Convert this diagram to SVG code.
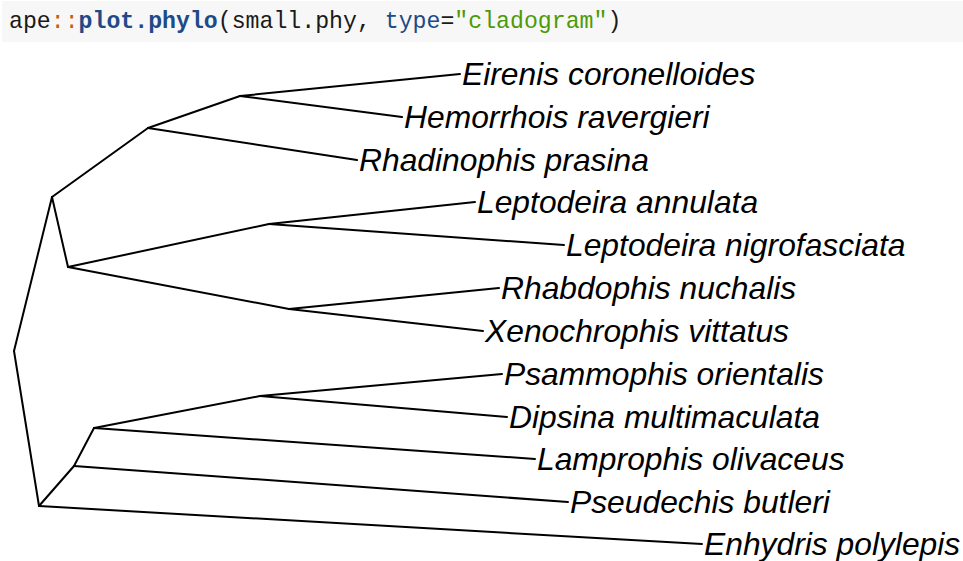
<svg xmlns="http://www.w3.org/2000/svg" width="963" height="561" viewBox="0 0 963 561">
  <style>
    .code { font-family: "Liberation Mono", "DejaVu Sans Mono", monospace; font-size: 23.2px; fill: #1a1a1a; }
    .ns { fill: #ce5c00; }
    .fn { fill: #204a87; font-weight: bold; }
    .arg { fill: #204a87; }
    .str { fill: #4e9a06; }
    .edge { stroke: #000; stroke-width: 2; fill: none; stroke-linecap: round; stroke-linejoin: round; }
    .tip { font-family: "Liberation Sans", Arial, sans-serif; font-style: italic; font-size: 31.8px; fill: #000; }
  </style>

  <rect width="963" height="561" fill="#ffffff"/>

  <!-- code chunk -->
  <g id="code">
    <rect x="2" y="1" width="961" height="41" fill="#f7f7f7"/>
    <text class="code" x="9" y="28" xml:space="preserve">ape<tspan class="ns">::</tspan><tspan class="fn">plot.phylo</tspan>(small.phy, <tspan class="arg">type</tspan>=<tspan class="str">"cladogram"</tspan>)</text>
  </g>

  <!-- tree edges (cladogram, slanted) -->
  <g id="edges" class="edge">
    <path d="M14 351 L52 197"/>
    <path d="M14 351 L39 506"/>
    <path d="M52 197 L148 128"/>
    <path d="M52 197 L68 267"/>
    <path d="M148 128 L240 96"/>
    <path d="M148 128 L357 160"/>
    <path d="M240 96 L460 74"/>
    <path d="M240 96 L402 117"/>
    <path d="M68 267 L269 224"/>
    <path d="M68 267 L289 309"/>
    <path d="M269 224 L475 202"/>
    <path d="M269 224 L564 245"/>
    <path d="M289 309 L499 288"/>
    <path d="M289 309 L483 331"/>
    <path d="M39 506 L74 466"/>
    <path d="M39 506 L702 544"/>
    <path d="M74 466 L94 428"/>
    <path d="M74 466 L568 502"/>
    <path d="M94 428 L260 396"/>
    <path d="M94 428 L535 459"/>
    <path d="M260 396 L502 374"/>
    <path d="M260 396 L507 417"/>
  </g>

  <!-- tip labels -->
  <g id="tip-eirenis"><text class="tip" x="462" y="85">Eirenis coronelloides</text></g>
  <g id="tip-hemorrhois"><text class="tip" x="404" y="128">Hemorrhois ravergieri</text></g>
  <g id="tip-rhadinophis"><text class="tip" x="359" y="171">Rhadinophis prasina</text></g>
  <g id="tip-leptodeira-a"><text class="tip" x="477" y="213">Leptodeira annulata</text></g>
  <g id="tip-leptodeira-n"><text class="tip" x="566" y="256">Leptodeira nigrofasciata</text></g>
  <g id="tip-rhabdophis"><text class="tip" x="501" y="299">Rhabdophis nuchalis</text></g>
  <g id="tip-xenochrophis"><text class="tip" x="485" y="342">Xenochrophis vittatus</text></g>
  <g id="tip-psammophis"><text class="tip" x="504" y="385">Psammophis orientalis</text></g>
  <g id="tip-dipsina"><text class="tip" x="509" y="428">Dipsina multimaculata</text></g>
  <g id="tip-lamprophis"><text class="tip" x="537" y="470">Lamprophis olivaceus</text></g>
  <g id="tip-pseudechis"><text class="tip" x="570" y="513">Pseudechis butleri</text></g>
  <g id="tip-enhydris"><text class="tip" x="704" y="555">Enhydris polylepis</text></g>
</svg>
